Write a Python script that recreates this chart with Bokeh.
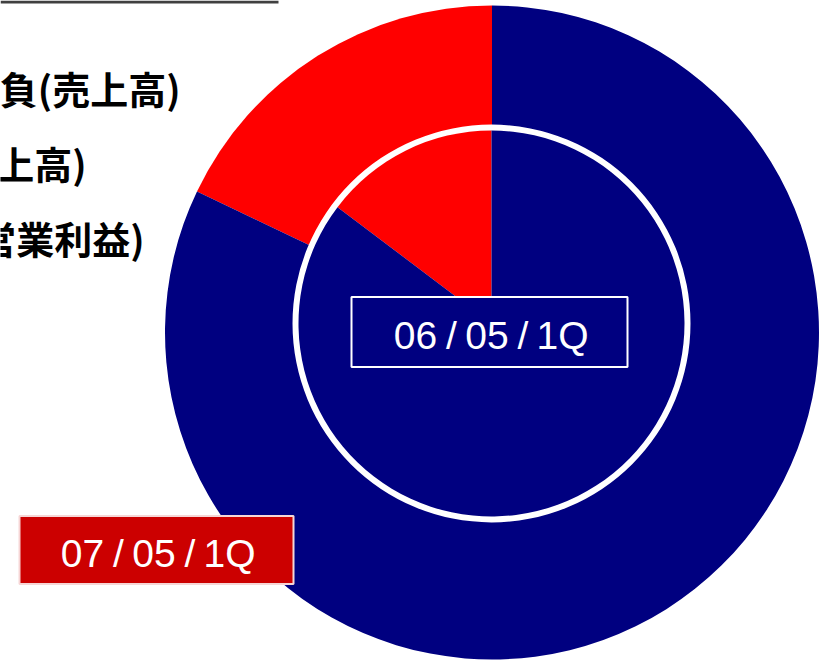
import math
from bokeh.plotting import figure
from bokeh.models import Range1d, ColumnDataSource
from bokeh.core.properties import value
from bokeh.embed import file_html
from bokeh.resources import INLINE

# ---- data ----
periods = ["07/05/1Q", "06/05/1Q"]
slice_names = ["シェア", "その他"]
outer_values = [17.9, 82.1]   # 07/05/1Q
inner_values = [14.7, 85.3]   # 06/05/1Q
slice_colors = ["#FF0000", "#000080"]
legend_lines = ["負(売上高)", "上高)", "営業利益)"]

W, H = 821, 660
p = figure(width=W, height=H, output_backend="svg", toolbar_location=None,
           x_range=Range1d(0, W), y_range=Range1d(0, H), min_border=0)
p.axis.visible = False
p.grid.visible = False
p.outline_line_color = None
p.background_fill_color = "white"
p.border_fill_color = "white"


def to_fig(rx, ry):
    return rx, H - ry


def angles(vals):
    tot = sum(vals)
    starts, ends = [], []
    a = math.pi / 2
    for v in vals:
        starts.append(a)
        a += 2 * math.pi * v / tot
        ends.append(a)
    return starts, ends

# top rule
x0, y0 = to_fig(0, 1.5)
x1, _ = to_fig(278, 1.5)
p.segment(x0=[x0], y0=[y0], x1=[x1], y1=[y0], line_color="#404040", line_width=3)

# outer pie (07/05/1Q)
ocx, ocy = to_fig(491.5, 332)
s, e = angles(outer_values)
src_o = ColumnDataSource(dict(start=s, end=e, color=slice_colors, name=slice_names))
p.wedge(x=ocx, y=ocy, radius=327, start_angle="start", end_angle="end",
        fill_color="color", line_color=None, source=src_o)

# inner pie (06/05/1Q) with white ring
icx, icy = to_fig(491, 323)
p.circle(x=[icx], y=[icy], radius=199, fill_color="white", line_color=None)
s, e = angles(inner_values)
src_i = ColumnDataSource(dict(start=s, end=e, color=slice_colors, name=slice_names))
p.wedge(x=icx, y=icy, radius=193, start_angle="start", end_angle="end",
        fill_color="color", line_color=None, source=src_i)

# period label boxes
piece_dx = [-74, -38, -2.5, 33.5, 73]


def label(cx, cy, text, fill, border, w, h):
    bx, by = to_fig(cx, cy)
    p.rect(x=[bx], y=[by], width=w, height=h, fill_color=fill,
           line_color=border, line_width=2)
    parts = text.split("/")
    pieces = [parts[0], "/", parts[1], "/", parts[2]]
    xs = [bx + d for d in piece_dx]
    p.text(x=xs, y=[by - 3] * 5, text=pieces, text_color="white",
           text_font=value("Liberation Sans"), text_font_size="39px",
           text_align="center", text_baseline="middle")

label(489, 331.5, periods[1], "#000080", "white", 276, 70)
label(156, 549.5, periods[0], "#CC0000", "#F6D6D6", 274, 68)

# left legend texts (partially cut, as in the reference)
lx = [180, 86, 144]
ly = [87, 162, 236.5]
for t, x, y in zip(legend_lines, lx, ly):
    fx, fy = to_fig(x, y)
    p.text(x=[fx], y=[fy], text=[t], text_color="black",
           text_font=value("Noto Sans CJK JP"), text_font_style="bold",
           text_font_size="38px", text_align="right", text_baseline="middle")

open("out.html", "w").write(file_html(p, INLINE))
